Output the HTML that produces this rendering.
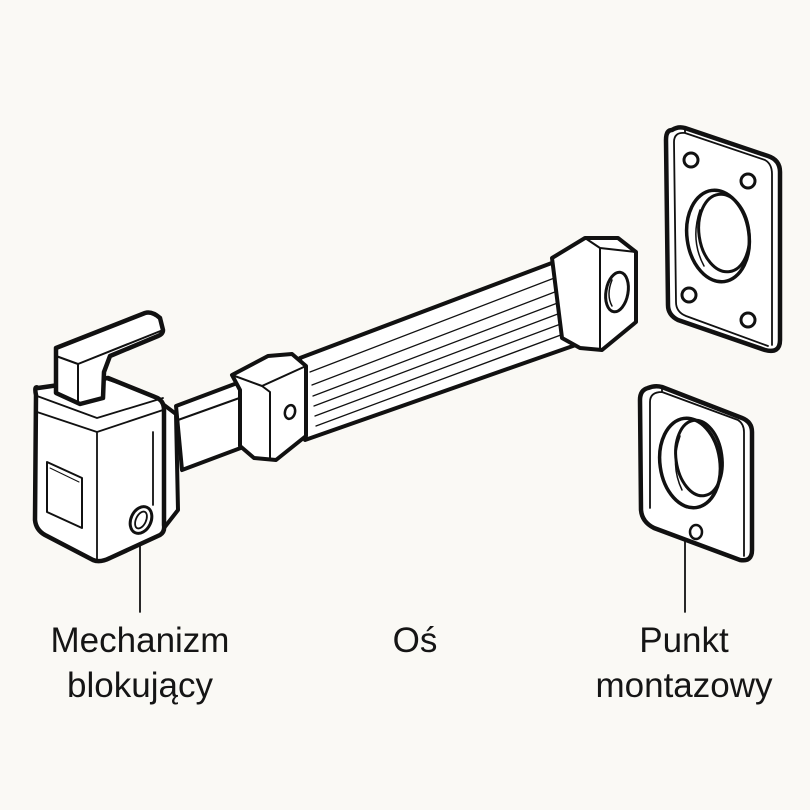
<!DOCTYPE html>
<html><head><meta charset="utf-8"><style>
html,body{margin:0;padding:0;background:#faf9f5}
svg{display:block}
text{font-family:"Liberation Sans",sans-serif;font-size:35px;fill:#151515;text-anchor:middle}
</style></head><body>
<svg width="810" height="810" viewBox="0 0 810 810" fill="none" stroke="#111" stroke-linejoin="round" stroke-linecap="round">
<rect width="810" height="810" fill="#faf9f5" stroke="none"/>
<path d="M300 358 L565 258 L590 340 L305 440 Z" fill="#fff" stroke-width="4"/>
<g stroke-width="1.3">
<path d="M310 372 L570 272"/><path d="M312 385 L573 285"/><path d="M313 396 L576 296"/><path d="M314 406 L579 306"/><path d="M315 416 L582 316"/><path d="M316 426 L585 326"/>
</g>
<path d="M552 258 L585 238 L618 238 L636 252 L636 322 L602 350 L580 348 L562 338 Z" fill="#fff" stroke-width="4"/>
<path d="M585 238 L600 248 L636 252 M600 248 L600 350" stroke-width="2"/>
<ellipse cx="617" cy="292" rx="11" ry="20" transform="rotate(10 617 292)" fill="#fff" stroke-width="3"/>
<path d="M612 280 Q606 295 612 306" stroke-width="1.5"/>
<path d="M176 406 L240 382 L262 440 L182 470 Z" fill="#fff" stroke-width="4"/>
<path d="M178 420 L245 396" stroke-width="2"/>
<path d="M232 375 L268 356 L292 354 L306 366 L306 436 L276 460 L254 458 L240 446 L240 390 Z" fill="#fff" stroke-width="4"/>
<path d="M232 375 L262 386 L306 366 M262 386 L270 392 L270 458" stroke-width="2"/>
<ellipse cx="290" cy="412" rx="5" ry="7" transform="rotate(15 290 412)" stroke-width="2.5"/>
<path d="M160 402 L176 414 L178 510 L164 528 Z" fill="#fff" stroke-width="4"/>
<path d="M38 388 Q34 385 36 395 L35 520 Q36 530 45 535 L93 560 Q100 563 110 558 L160 535 Q165 532 164 525 L164 410 Q164 400 155 397 L108 378 Z" fill="#fff" stroke-width="4.5"/>
<path d="M37 396 L97 418 L163 398 M37 412 L97 432 L163 410 M97 432 L97 560 M153 432 L153 505" stroke-width="1.8"/>
<path d="M47 462 L82 478 L82 528 L47 512 Z" stroke-width="2"/>
<path d="M50 468 L79 482" stroke-width="1"/>
<ellipse cx="141" cy="520" rx="10" ry="14" transform="rotate(25 141 520)" stroke-width="3"/>
<ellipse cx="141" cy="520" rx="5" ry="9" transform="rotate(25 141 520)" stroke-width="1.8"/>
<path d="M56 348 L145 313 Q152 311 160 318 L163 330 Q163 334 158 336 L110 356 L104 372 L103 398 L80 404 L56 393 Z" fill="#fff" stroke-width="4.5"/>
<path d="M56 356 L78 364 L78 403 M78 364 L163 330" stroke-width="2"/>
<path d="M108 380 L120 384" stroke-width="1.5"/>
<path d="M672 130 Q666 130 666 140 L668 305 Q668 315 678 320 L765 350 Q780 354 780 340 L780 172 Q780 160 768 156 L685 128 Q678 126 672 130 Z" fill="#fff" stroke-width="4.5"/>
<path d="M685 128 L685 133 Q674 132 674 142 L676 302 Q676 312 686 316 L768 346 M685 133 L765 160 Q772 164 772 174 L772 345" stroke-width="1.8"/>
<ellipse cx="718" cy="236" rx="31" ry="46" transform="rotate(-8 718 236)" stroke-width="3.5"/>
<ellipse cx="724" cy="233" rx="25" ry="39" transform="rotate(-8 724 233)" stroke-width="3"/>
<path d="M700 210 Q690 240 704 266" stroke-width="1.5"/>
<g stroke-width="3"><circle cx="691" cy="160" r="7"/><circle cx="748" cy="181" r="7"/><circle cx="689" cy="295" r="7"/><circle cx="748" cy="320" r="7"/></g>
<path d="M648 388 Q640 390 640 400 L641 510 Q642 522 654 528 L740 560 Q752 562 752 550 L752 432 Q752 422 742 418 L662 387 Q655 385 648 388 Z" fill="#fff" stroke-width="4.5"/>
<path d="M662 387 L662 392 Q650 392 650 402 L650 508 M662 392 L738 420 Q744 424 744 432 L744 556" stroke-width="1.8"/>
<ellipse cx="690" cy="463" rx="30" ry="45" transform="rotate(-8 690 463)" stroke-width="3.5"/>
<ellipse cx="699" cy="458" rx="23" ry="38" transform="rotate(-8 699 458)" stroke-width="3"/>
<path d="M680 436 Q670 465 682 490" stroke-width="1.5"/>
<ellipse cx="696" cy="532" rx="6" ry="7" stroke-width="2.5"/>
<path d="M140 546 L140 612 M685 541 L685 612" stroke-width="1.8"/>
<g stroke="none">
<text x="140" y="652">Mechanizm</text>
<text x="140" y="697">blokujący</text>
<text x="415" y="652">Oś</text>
<text x="684" y="652">Punkt</text>
<text x="684" y="697">montazowy</text>
</g>
</svg>
</body></html>
